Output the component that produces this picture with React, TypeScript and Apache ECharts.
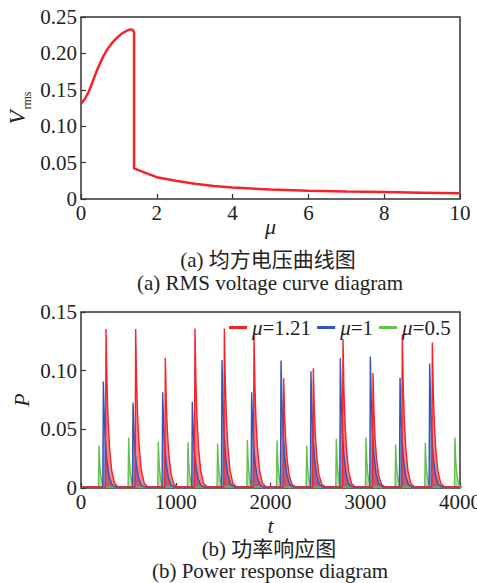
import React, { useEffect, useRef } from "react";
import * as echarts from "echarts";

// ---- (a) RMS voltage curve ----
const muValues = [0, 0.1, 0.2, 0.3, 0.4, 0.5, 0.6, 0.7, 0.8, 0.9, 1.0, 1.1, 1.2, 1.3, 1.36, 1.4, 1.4, 1.5, 1.7, 2.0, 2.5, 3, 3.5, 4, 5, 6, 7, 8, 9, 10];
const vrmsValues = [0.131, 0.137, 0.147, 0.16, 0.174, 0.186, 0.197, 0.206, 0.213, 0.219, 0.224, 0.228, 0.231, 0.233, 0.2325, 0.229, 0.042, 0.04, 0.036, 0.03, 0.025, 0.021, 0.018, 0.0158, 0.013, 0.0115, 0.0104, 0.0095, 0.0087, 0.0078];
const topXTicks = { min: 0, max: 10, interval: 2 };
const topYTicks = { min: 0, max: 0.25, interval: 0.05 };

// ---- (b) Power response: spike peaks ----
const seriesNames = ["μ=1.21", "μ=1", "μ=0.5"];
const redPeakT = [264, 577, 890, 1203, 1513, 1826, 2139, 2452, 2765, 3082, 3391, 3708];
const redPeakP = [0.1355, 0.1355, 0.111, 0.136, 0.136, 0.13, 0.0935, 0.102, 0.127, 0.098, 0.131, 0.124];
const bluePeakT = [236, 549, 862, 1175, 1488, 1801, 2111, 2427, 2737, 3054, 3367, 3680];
const bluePeakP = [0.0907, 0.0727, 0.0815, 0.0735, 0.109, 0.0815, 0.1086, 0.0995, 0.1106, 0.112, 0.094, 0.106];
const greenPeakT = [190, 503, 816, 1129, 1442, 1756, 2069, 2382, 2695, 3008, 3321, 3634, 3947];
const greenPeakP = [0.0362, 0.043, 0.0396, 0.039, 0.038, 0.041, 0.0405, 0.036, 0.042, 0.043, 0.0373, 0.0385, 0.043];
// spike tail shape (offset in t, fraction of peak)
const tailOffsets = [0, 10, 22, 38, 60, 90, 130];
const tailFractions = [1, 0.66, 0.43, 0.25, 0.11, 0.03, 0];
const greenTailOffsets = [0, 8, 18, 32, 52, 80];
const greenTailFractions = [1, 0.55, 0.3, 0.13, 0.04, 0];
const bottomXTicks = { min: 0, max: 4000, interval: 1000 };
const bottomYTicks = { min: 0, max: 0.15, interval: 0.05 };

const RED = "#f5222a";
const BLUE = "#2f55b8";
const GREEN = "#62c04c";
const FRAME = "#333";
const SERIF = "'Liberation Serif', 'Times New Roman', serif";
const CAPTION_FONT = "'Liberation Serif', 'Noto Sans CJK SC', serif";

function buildSpikes(ts: number[], ps: number[], offs: number[], fracs: number[]) {
  const pts: number[][] = [[0, 0.0008]];
  ts.forEach((t, i) => {
    pts.push([t - 6, 0.0008]);
    offs.forEach((o, k) => pts.push([t + o, Math.max(ps[i] * fracs[k], 0.0008)]));
  });
  pts.push([4000, 0.0008]);
  return pts;
}

const yFmt = (v: number) => (v === 0 ? "0" : v.toFixed(2));
const xFmt = (v: number) => String(v);

export default function App() {
  const ref = useRef<HTMLDivElement>(null);
  useEffect(() => {
    document.body.style.margin = "0";
    const chart = echarts.init(ref.current!, undefined, { renderer: "svg" });
    const axisLabel = { fontFamily: SERIF, fontSize: 21, color: "#222" };
    const tick = { show: true, inside: true, length: 5, lineStyle: { color: FRAME, width: 1.2 } };
    const gridBase = {
      show: true, borderColor: FRAME, borderWidth: 1.5, backgroundColor: "transparent",
      containLabel: false, outerBoundsMode: "none",
    };
    chart.setOption({
      animation: false,
      grid: [
        { ...gridBase, left: 81, top: 17, width: 379, height: 182 },
        { ...gridBase, left: 81, top: 312, width: 379, height: 176 },
      ],
      xAxis: [
        {
          type: "value", gridIndex: 0, ...topXTicks,
          axisLine: { show: false }, axisTick: tick, splitLine: { show: false },
          axisLabel: { ...axisLabel, margin: 3, formatter: xFmt },
          name: "μ", nameLocation: "middle", nameGap: 16, nameMoveOverlap: false,
          nameTextStyle: { fontFamily: SERIF, fontSize: 22, fontStyle: "italic", color: "#222" },
        },
        {
          type: "value", gridIndex: 1, ...bottomXTicks,
          axisLine: { show: false }, axisTick: tick, splitLine: { show: false },
          axisLabel: { ...axisLabel, margin: 3, formatter: xFmt },
          name: "t", nameLocation: "middle", nameGap: 26, nameMoveOverlap: false,
          nameTextStyle: { fontFamily: SERIF, fontSize: 22, fontStyle: "italic", color: "#222" },
        },
      ],
      yAxis: [
        {
          type: "value", gridIndex: 0, ...topYTicks,
          axisLine: { show: false }, axisTick: tick, splitLine: { show: false },
          axisLabel: { ...axisLabel, margin: 4, formatter: yFmt },
          name: "{v|V}{s|rms}", nameLocation: "middle", nameGap: 48, nameRotate: 90, nameMoveOverlap: false,
          nameTextStyle: {
            color: "#222",
            rich: {
              v: { fontFamily: SERIF, fontSize: 23, fontStyle: "italic", verticalAlign: "bottom", color: "#222", padding: [0, 0, 4, 0] },
              s: { fontFamily: SERIF, fontSize: 12, verticalAlign: "bottom", color: "#222", padding: [0, 0, 0, 1] },
            },
          },
        },
        {
          type: "value", gridIndex: 1, ...bottomYTicks,
          axisLine: { show: false }, axisTick: tick, splitLine: { show: false },
          axisLabel: { ...axisLabel, margin: 4, formatter: yFmt },
          name: "P", nameLocation: "middle", nameGap: 49, nameRotate: 90, nameMoveOverlap: false,
          nameTextStyle: { fontFamily: SERIF, fontSize: 22, fontStyle: "italic", color: "#222" },
        },
      ],
      legend: {
        data: seriesNames,
        left: 224, top: 312,
        icon: "rect", itemWidth: 18, itemHeight: 3, itemGap: 6,
        formatter: (name: string) => "{i|μ}" + name.slice(1),
        textStyle: {
          fontFamily: SERIF, fontSize: 21, color: "#222",
          rich: { i: { fontFamily: SERIF, fontSize: 21, fontStyle: "italic", color: "#222" } },
        },
      },
      series: [
        {
          name: "Vrms", type: "line", xAxisIndex: 0, yAxisIndex: 0,
          data: muValues.map((m, i) => [m, vrmsValues[i]]),
          showSymbol: false, lineStyle: { color: RED, width: 2.5 }, itemStyle: { color: RED },
        },
        {
          name: seriesNames[2], type: "line", xAxisIndex: 1, yAxisIndex: 1,
          data: buildSpikes(greenPeakT, greenPeakP, greenTailOffsets, greenTailFractions),
          showSymbol: false, lineStyle: { color: GREEN, width: 1.4 }, itemStyle: { color: GREEN },
          areaStyle: { color: GREEN, opacity: 0.5 },
        },
        {
          name: seriesNames[1], type: "line", xAxisIndex: 1, yAxisIndex: 1,
          data: buildSpikes(bluePeakT, bluePeakP, tailOffsets, tailFractions),
          showSymbol: false, lineStyle: { color: BLUE, width: 1.4 }, itemStyle: { color: BLUE },
          areaStyle: { color: BLUE, opacity: 0.6 },
        },
        {
          name: seriesNames[0], type: "line", xAxisIndex: 1, yAxisIndex: 1,
          data: buildSpikes(redPeakT, redPeakP, tailOffsets, tailFractions),
          showSymbol: false, lineStyle: { color: RED, width: 1.4 }, itemStyle: { color: RED },
          areaStyle: { color: RED, opacity: 0.55 },
        },
      ],
      graphic: [
        { type: "text", x: 268, y: 260, style: { text: "(a) 均方电压曲线图", font: `21px ${CAPTION_FONT}`, fill: "#222", align: "center", verticalAlign: "middle" } },
        { type: "text", x: 270, y: 283, style: { text: "(a) RMS voltage curve diagram", font: `21px ${CAPTION_FONT}`, fill: "#222", align: "center", verticalAlign: "middle" } },
        { type: "text", x: 269, y: 549, style: { text: "(b) 功率响应图", font: `21px ${CAPTION_FONT}`, fill: "#222", align: "center", verticalAlign: "middle" } },
        { type: "text", x: 270, y: 571, style: { text: "(b) Power response diagram", font: `21px ${CAPTION_FONT}`, fill: "#222", align: "center", verticalAlign: "middle" } },
      ],
    });
    return () => chart.dispose();
  }, []);
  return <div ref={ref} style={{ width: 477, height: 583 }} />;
}
